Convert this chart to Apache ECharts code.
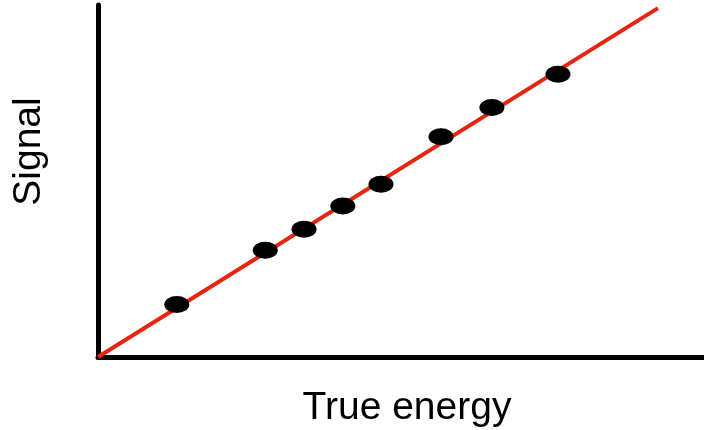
<!DOCTYPE html>
<html>
<head>
<meta charset="utf-8">
<script src="https://cdn.jsdelivr.net/npm/echarts@6/dist/echarts.min.js"></script>
<style>
html,body{margin:0;padding:0;background:#fff;overflow:hidden;}
#chart{width:704px;height:430px;}
</style>
</head>
<body>
<div id="chart"></div>
<script>
// Measured points (arbitrary units)
const trueEnergy = [1.30, 2.76, 3.40, 4.04, 4.67, 5.66, 6.50, 7.59];
const signal     = [1.49, 3.03, 3.63, 4.29, 4.91, 6.26, 7.09, 8.03];
// Calibration line endpoints
const lineEnergy = [0, 9.24];
const lineSignal = [0, 9.91];
const xTitle = 'True energy';
const yTitle = 'Signal';

const chart = echarts.init(document.getElementById('chart'));
const font = '"Liberation Sans", Arial, Helvetica, sans-serif';
chart.setOption({
  backgroundColor: '#fff',
  animation: false,
  grid: {left: 98, right: 0, top: 5, bottom: 73},
  xAxis: {
    type: 'value', min: 0, max: 10,
    axisLine: {show: true, lineStyle: {color: '#000', width: 5}},
    axisTick: {show: false}, axisLabel: {show: false}, splitLine: {show: false}
  },
  yAxis: {
    type: 'value', min: 0, max: 10,
    axisLine: {show: true, lineStyle: {color: '#000', width: 5}},
    axisTick: {show: false}, axisLabel: {show: false}, splitLine: {show: false}
  },
  graphic: [
    {
      type: 'text', x: 407, y: 408,
      style: {text: xTitle, fontFamily: font, fontSize: 39, fill: '#000',
              textAlign: 'center', textVerticalAlign: 'middle'}
    },
    {
      type: 'text', x: 29, y: 151.5, rotation: Math.PI / 2,
      style: {text: yTitle, fontFamily: font, fontSize: 39, fill: '#000',
              textAlign: 'center', textVerticalAlign: 'middle'}
    }
  ],
  series: [
    {
      type: 'line',
      data: lineEnergy.map((x, i) => [x, lineSignal[i]]),
      showSymbol: false, symbol: 'none',
      lineStyle: {color: '#e8240f', width: 4},
      z: 2
    },
    {
      type: 'scatter',
      data: trueEnergy.map((x, i) => [x, signal[i]]),
      symbol: 'circle', symbolSize: [25, 17],
      itemStyle: {color: '#000', opacity: 1},
      z: 3
    }
  ]
});
</script>
</body>
</html>
